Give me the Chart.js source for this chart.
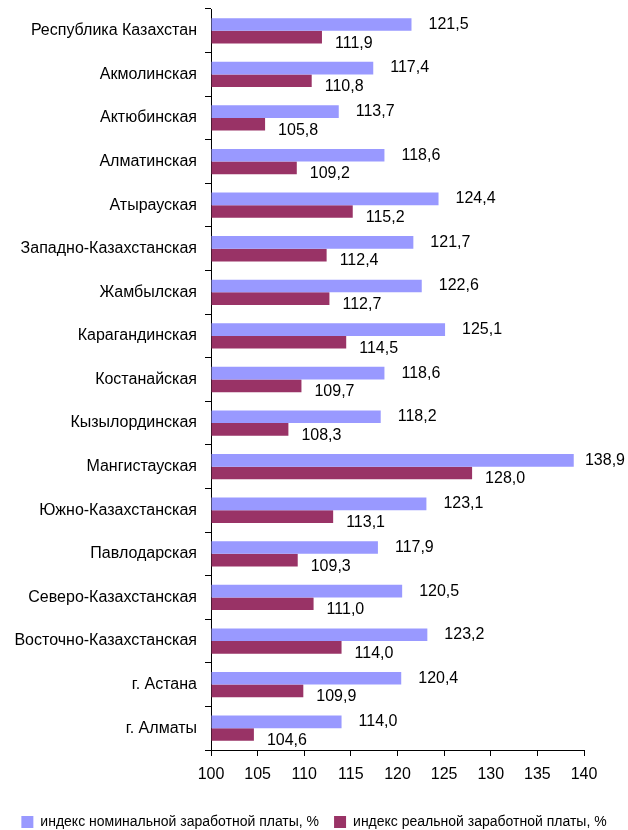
<!DOCTYPE html>
<html lang="ru">
<head>
    <meta charset="UTF-8">
    <title>Индексы заработной платы</title>
    <script src="https://cdn.jsdelivr.net/npm/chart.js"></script>
    <style>
        html, body { margin: 0; padding: 0; background: #fff; }
        .wrap { width: 628px; height: 830px; position: relative; }
    </style>
</head>
<body>
    <div class="wrap">
        <canvas id="wageChart"></canvas>
    </div>

    <script>
        // Regions
        const regions = [
            'Республика Казахстан', 'Акмолинская', 'Актюбинская', 'Алматинская',
            'Атырауская', 'Западно-Казахстанская', 'Жамбылская', 'Карагандинская',
            'Костанайская', 'Кызылординская', 'Мангистауская', 'Южно-Казахстанская',
            'Павлодарская', 'Северо-Казахстанская', 'Восточно-Казахстанская',
            'г. Астана', 'г. Алматы'
        ];
        const nominalIndex = [121.5, 117.4, 113.7, 118.6, 124.4, 121.7, 122.6, 125.1, 118.6, 118.2, 138.9, 123.1, 117.9, 120.5, 123.2, 120.4, 114.0];
        const realIndex = [111.9, 110.8, 105.8, 109.2, 115.2, 112.4, 112.7, 114.5, 109.7, 108.3, 128.0, 113.1, 109.3, 111.0, 114.0, 109.9, 104.6];
        const xTicks = [100, 105, 110, 115, 120, 125, 130, 135, 140];

        const fontFamily = '"Liberation Sans", Arial, sans-serif';

        // value labels to the right of each bar
        const valueLabels = {
            id: 'valueLabels',
            afterDatasetsDraw(chart) {
                const ctx = chart.ctx;
                ctx.save();
                ctx.font = '16px ' + fontFamily;
                ctx.fillStyle = '#000';
                ctx.textBaseline = 'middle';
                chart.data.datasets.forEach((ds, i) => {
                    const meta = chart.getDatasetMeta(i);
                    meta.data.forEach((bar, j) => {
                        const txt = ds.data[j].toFixed(1).replace('.', ',');
                        const dx = i === 0 ? 17 : 13;
                        const dy = i === 0 ? 0 : 6;
                        // keep the label inside the canvas
                        const x = Math.min(bar.x + dx, chart.width - ctx.measureText(txt).width - 3);
                        ctx.fillText(txt, x, bar.y + dy);
                    });
                });
                ctx.restore();
            }
        };

        // push the legend a bit lower, closer to the bottom edge
        const legendShift = {
            id: 'legendShift',
            afterLayout(chart) {
                chart.legend.top += 9;
                chart.legend.bottom += 9;
            }
        };

        const ctx = document.getElementById('wageChart').getContext('2d');
        new Chart(ctx, {
            type: 'bar',
            data: {
                labels: regions,
                datasets: [
                    {
                        label: 'индекс номинальной заработной платы, %',
                        data: nominalIndex,
                        backgroundColor: '#9999FF',
                        base: 100
                    },
                    {
                        label: 'индекс реальной заработной платы, %',
                        data: realIndex,
                        backgroundColor: '#993366',
                        base: 100
                    }
                ]
            },
            options: {
                indexAxis: 'y',
                responsive: true,
                maintainAspectRatio: false,
                animation: false,
                layout: { padding: { top: 9, right: 0, left: 0, bottom: 0 } },
                datasets: {
                    bar: { categoryPercentage: 0.58, barPercentage: 1.0 }
                },
                scales: {
                    x: {
                        min: 100,
                        max: 140,
                        afterBuildTicks: (scale) => { scale.ticks = xTicks.map(v => ({ value: v })); },
                        grid: { drawOnChartArea: false, tickLength: 6, color: '#000' },
                        border: { color: '#000' },
                        ticks: { color: '#000', font: { family: fontFamily, size: 16 }, padding: 9 },
                        afterFit: (scale) => { scale.height = 41; scale.paddingRight = 44; }
                    },
                    y: {
                        grid: { drawOnChartArea: false, tickLength: 6, color: '#000', offset: true },
                        border: { color: '#000' },
                        ticks: { color: '#000', font: { family: fontFamily, size: 16 }, padding: 8 },
                        afterFit: (scale) => { scale.width = 211; scale.paddingTop = 0; scale.paddingBottom = 0; }
                    }
                },
                plugins: {
                    legend: {
                        position: 'bottom',
                        labels: {
                            color: '#000',
                            font: { family: fontFamily, size: 14 },
                            boxWidth: 12,
                            boxHeight: 12,
                            padding: 15
                        }
                    },
                    tooltip: { enabled: false }
                }
            },
            plugins: [valueLabels, legendShift]
        });
    </script>
</body>
</html>
